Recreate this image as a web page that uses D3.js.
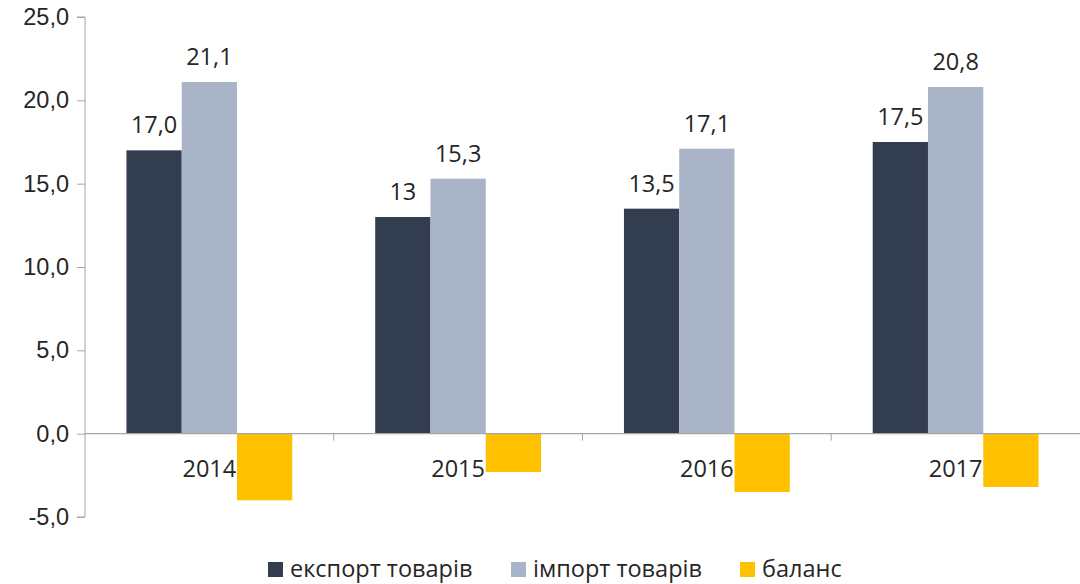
<!DOCTYPE html>
<html>
<head>
<meta charset="utf-8">
<script src="https://cdn.jsdelivr.net/npm/d3@7"></script>
<style>
  body { margin: 0; background: #fff; }
  #chart-container { width: 1080px; height: 584px; }
</style>
</head>
<body>
<div id="chart-container"></div>
<script>
// Дані
const years = ["2014", "2015", "2016", "2017"];
const exportValues = [17.0, 13.0, 13.5, 17.5];
const importValues = [21.1, 15.3, 17.1, 20.8];
const balanceValues = [-4.0, -2.3, -3.5, -3.2];
const exportLabels = ["17,0", "13", "13,5", "17,5"];
const importLabels = ["21,1", "15,3", "17,1", "20,8"];
const yTicks = [-5, 0, 5, 10, 15, 20, 25];
const seriesNames = ["експорт товарів", "імпорт товарів", "баланс"];

const colors = ["#333d50", "#aab4c8", "#ffc000"];
const width = 1080, height = 584;
const margin = { top: 17, right: 0, bottom: 67, left: 85 };
const fontSize = "23.5px";

const svg = d3.select("#chart-container")
    .append("svg")
    .attr("width", width)
    .attr("height", height)
    .style("font-family", "'Open Sans', sans-serif");

const x = d3.scaleBand()
    .domain(years)
    .range([margin.left, width - margin.right]);

const barW = x.bandwidth() / 4.5;

const y = d3.scaleLinear()
    .domain([-5, 25])
    .range([height - margin.bottom, margin.top]);

// Вісь Y
const yAxis = svg.append("g")
    .attr("transform", `translate(${margin.left},0)`)
    .call(d3.axisLeft(y)
        .tickValues(yTicks)
        .tickSize(8)
        .tickPadding(8)
        .tickFormat(d => d3.format(".1f")(d).replace(".", ",").replace("−", "-")));
yAxis.select(".domain").attr("stroke", "#a6a6a6").attr("d", `M-8,${y(25)}H0V${y(-5)}H-8`);
yAxis.selectAll(".tick line").attr("stroke", "#a6a6a6");
yAxis.selectAll(".tick text")
    .attr("fill", "#262626")
    .style("font-size", fontSize);

// Серії
const series = [exportValues, importValues, balanceValues];
series.forEach((vals, si) => {
    svg.append("g")
        .selectAll("rect")
        .data(vals)
        .join("rect")
        .attr("x", (d, i) => x(years[i]) + barW * 0.75 + si * barW)
        .attr("y", d => y(Math.max(0, d)))
        .attr("width", barW)
        .attr("height", d => Math.abs(y(d) - y(0)))
        .attr("fill", colors[si]);
});

// Вісь X
svg.append("line")
    .attr("x1", margin.left)
    .attr("x2", width - margin.right)
    .attr("y1", y(0))
    .attr("y2", y(0))
    .attr("stroke", "#a6a6a6")
    .attr("stroke-width", 1.3);

svg.append("g")
    .selectAll("line")
    .data(years.slice(1))
    .join("line")
    .attr("x1", d => x(d))
    .attr("x2", d => x(d))
    .attr("y1", y(0))
    .attr("y2", y(0) + 7)
    .attr("stroke", "#a6a6a6");

svg.append("g")
    .selectAll("text")
    .data(years)
    .join("text")
    .attr("x", d => x(d) + x.bandwidth() / 2)
    .attr("y", y(0) + 43)
    .attr("text-anchor", "middle")
    .attr("fill", "#262626")
    .style("font-size", fontSize)
    .text(d => d);

// Підписи значень
[[exportValues, exportLabels], [importValues, importLabels]].forEach(([vals, labels], si) => {
    svg.append("g")
        .selectAll("text")
        .data(vals)
        .join("text")
        .attr("x", (d, i) => x(years[i]) + barW * 0.75 + si * barW + barW / 2)
        .attr("y", d => y(d) - 17)
        .attr("text-anchor", "middle")
        .attr("fill", "#262626")
        .style("font-size", fontSize)
        .text((d, i) => labels[i]);
});

// Легенда
const legendX = [268, 511, 740];
const legend = svg.append("g");
seriesNames.forEach((name, i) => {
    const g = legend.append("g").attr("transform", `translate(${legendX[i]}, 562)`);
    g.append("rect")
        .attr("width", 15)
        .attr("height", 15)
        .attr("fill", colors[i]);
    g.append("text")
        .attr("x", 22)
        .attr("y", 15)
        .attr("fill", "#262626")
        .style("font-size", fontSize)
        .text(name);
});
</script>
</body>
</html>
